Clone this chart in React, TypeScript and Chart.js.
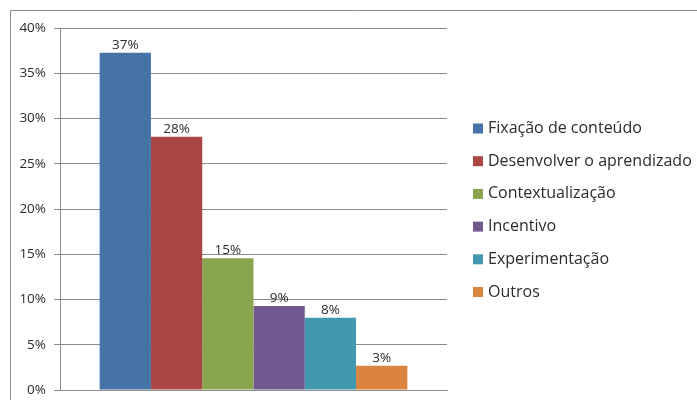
import React, { useEffect, useRef } from "react";
import { Chart, registerables } from "chart.js";

Chart.register(...registerables);

const categories = [""];
const seriesNames = [
  "Fixação de conteúdo",
  "Desenvolver o aprendizado",
  "Contextualização",
  "Incentivo",
  "Experimentação",
  "Outros",
];
const seriesValues = [37.26, 27.99, 14.55, 9.28, 7.99, 2.69];
const seriesLabels = ["37%", "28%", "15%", "9%", "8%", "3%"];
const seriesColors = ["#4572A7", "#AA4643", "#89A54E", "#71588F", "#4198AF", "#DB843D"];
const yTicks = [0, 5, 10, 15, 20, 25, 30, 35, 40];

const FONT = "'Open Sans', Lato, sans-serif";
const TEXT = "#2b2b2b";
const GRID = "#8c8c8c";

const framePlugin = {
  id: "frame",
  beforeDraw(chart: any) {
    const ctx = chart.ctx;
    ctx.save();
    ctx.strokeStyle = GRID;
    ctx.lineWidth = 1;
    ctx.beginPath();
    ctx.moveTo(10.5, chart.height + 5);
    ctx.lineTo(10.5, 10.5);
    ctx.lineTo(chart.width + 5, 10.5);
    ctx.stroke();
    ctx.restore();
  },
};

const dataLabelPlugin = {
  id: "dataLabels",
  afterDatasetsDraw(chart: any) {
    const ctx = chart.ctx;
    ctx.save();
    ctx.font = `13.5px ${FONT}`;
    ctx.fillStyle = TEXT;
    ctx.textAlign = "center";
    ctx.textBaseline = "alphabetic";
    chart.data.datasets.forEach((ds: any, i: number) => {
      const meta = chart.getDatasetMeta(i);
      const el = meta.data[0];
      if (!el) return;
      ctx.fillText(seriesLabels[i], el.x, el.y - 4);
    });
    ctx.restore();
  },
};

const legendPlugin = {
  id: "customLegend",
  afterDraw(chart: any) {
    const ctx = chart.ctx;
    ctx.save();
    ctx.font = `16px ${FONT}`;
    ctx.textBaseline = "middle";
    ctx.textAlign = "left";
    chart.data.datasets.forEach((ds: any, i: number) => {
      const cy = 128.5 + i * 32.7;
      ctx.fillStyle = ds.backgroundColor;
      ctx.fillRect(473, cy - 5, 10, 10);
      ctx.fillStyle = TEXT;
      ctx.fillText(ds.label, 488, cy);
    });
    ctx.restore();
  },
};

export default function App() {
  const ref = useRef<HTMLCanvasElement>(null);
  useEffect(() => {
    document.body.style.margin = "0";
    if (!ref.current) return;
    const chart = new Chart(ref.current, {
      type: "bar",
      data: {
        labels: categories,
        datasets: seriesNames.map((name, i) => ({
          label: name,
          data: [seriesValues[i]],
          backgroundColor: seriesColors[i],
          borderWidth: 0,
          barPercentage: 1,
          categoryPercentage: 0.795,
        })),
      },
      options: {
        responsive: false,
        animation: false,
        layout: { padding: { left: 0, top: 28, right: 250, bottom: 10 } },
        plugins: {
          legend: { display: false },
          tooltip: { enabled: false },
        },
        scales: {
          x: {
            ticks: { display: false },
            grid: { display: false },
            border: { display: true, color: GRID },
            afterFit(scale: any) {
              scale.height = 0;
              scale.paddingLeft = 0;
              scale.paddingRight = 0;
            },
          },
          y: {
            min: 0,
            max: 40,
            afterBuildTicks(scale: any) {
              scale.ticks = yTicks.map((v) => ({ value: v }));
            },
            ticks: {
              callback: (v: any) => `${v}%`,
              color: TEXT,
              font: { family: FONT, size: 13.5 },
              padding: 8,
            },
            grid: { color: GRID, tickLength: 6, drawTicks: true },
            border: { display: true, color: GRID },
            afterFit(scale: any) {
              scale.width = 60;
              scale.paddingTop = 0;
              scale.paddingBottom = 0;
            },
          },
        },
      },
      plugins: [framePlugin, dataLabelPlugin, legendPlugin],
    });
    return () => chart.destroy();
  }, []);
  return <canvas ref={ref} width={697} height={400} style={{ display: "block" }} />;
}
